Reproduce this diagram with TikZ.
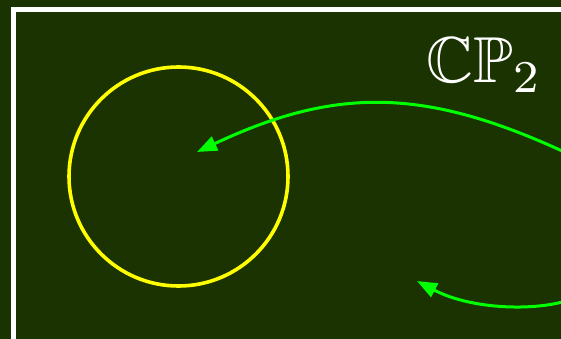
\documentclass[tikz,border=0pt]{standalone}
\usepackage{graphicx}
\usepackage{amssymb}
\usetikzlibrary{arrows.meta}
\definecolor{bgdark}{RGB}{26,51,0}
\definecolor{arrowgreen}{RGB}{0,255,0}
\definecolor{ringyellow}{RGB}{255,255,0}
\tikzset{
  ring/.style={circle, draw=ringyellow, line width=3.6pt, minimum size=219pt, inner sep=0pt},
  flow/.style={draw=arrowgreen, line width=3pt, -{Triangle[length=20pt,width=15pt]}, arrowgreen},
  frameline/.style={draw=white, line width=5.5pt},
  label/.style={text=white, inner sep=0pt, anchor=base west}
}
\begin{document}
\begin{tikzpicture}[x=1pt,y=-1pt]
\useasboundingbox (0,0) rectangle (561,339);
\clip (0,0) rectangle (561,339);
\fill[bgdark] (-5,-5) rectangle (570,345);
\draw[frameline] (13.5,400) |- (620,9.5);
\node[ring] (disk) at (178.5,176.5) {};
\node[label] (title) at (426,83) {\scalebox{6.5}{$\mathbb{CP}_2$}};
\coordinate (srcA) at (575,157);
\coordinate (tipA) at (197,152);
\coordinate (srcB) at (575,298);
\coordinate (tipB) at (417,281);
\draw[flow] (srcA) .. controls (430,88) and (339,85) .. (tipA);
\draw[flow] (srcB) .. controls (540,312) and (472,310) .. (tipB);
\end{tikzpicture}
\end{document}
